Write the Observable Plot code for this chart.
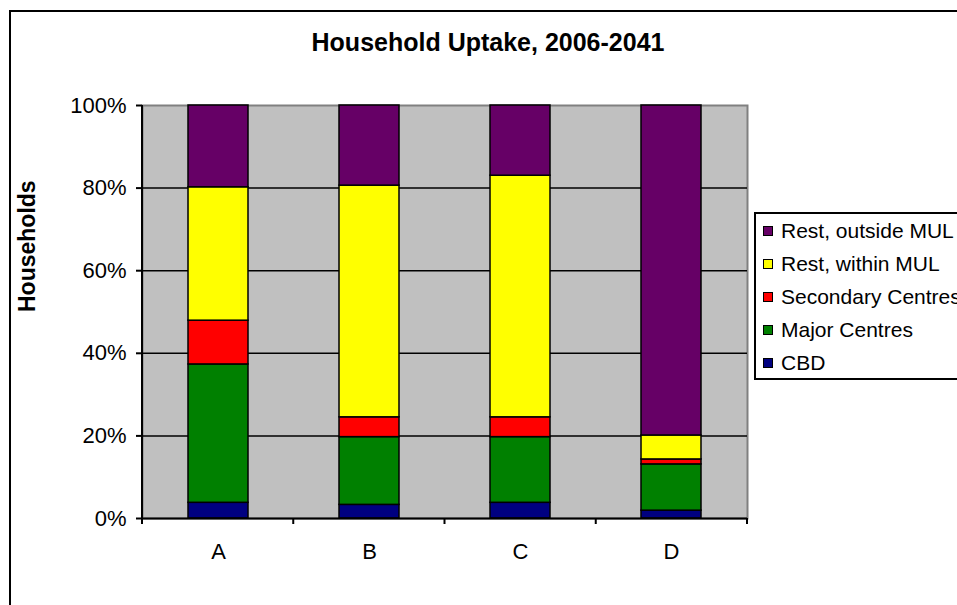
<!DOCTYPE html>
<html>
<head>
<meta charset="utf-8">
<script src="https://cdn.jsdelivr.net/npm/d3@7"></script>
<script src="https://cdn.jsdelivr.net/npm/@observablehq/plot@0.6"></script>
<style>
  html, body { margin: 0; padding: 0; background: #fff; overflow: hidden; }
  body { width: 957px; height: 605px; position: relative; font-family: "Liberation Sans", Arial, sans-serif; }
  #frame { position: absolute; left: 9px; top: 10px; width: 1200px; height: 900px; border: 2px solid #000; box-sizing: border-box; }
  #title { position: absolute; top: 28px; left: 488px; transform: translateX(-50%); font-size: 25px; font-weight: bold; white-space: nowrap; color: #000; }
  #chart { position: absolute; left: 0; top: 0; }
  #legend { position: absolute; left: 754px; top: 212px; width: 300px; height: 168px; border: 2px solid #000; box-sizing: border-box; background: #fff; }
  .row { height: 33.2px; display: flex; align-items: center; font-size: 21px; white-space: nowrap; color: #000; }
  .sw { width: 10px; height: 10px; border: 1px solid #000; box-sizing: border-box; margin-left: 7px; margin-right: 8px; flex: none; }
</style>
</head>
<body>
<div id="frame"></div>
<div id="chart"></div>
<div id="title">Household Uptake, 2006-2041</div>
<div id="legend"></div>
<script>
// ---- data ----
const categories = ["A", "B", "C", "D"];
const seriesNames = ["CBD", "Major Centres", "Secondary Centres", "Rest, within MUL", "Rest, outside MUL"];
const seriesColors = ["#000080", "#008000", "#FF0000", "#FFFF00", "#660066"];
const cbd       = [3.8, 3.3, 3.8, 1.9];
const major     = [33.5, 16.4, 15.9, 11.2];
const secondary = [10.6, 4.8, 4.8, 1.2];
const within    = [32.3, 56.1, 58.5, 5.8];
const outside   = [19.8, 19.4, 17.0, 79.9];
const yTicks = [0, 0.2, 0.4, 0.6, 0.8, 1];
const gridTicks = [0.2, 0.4, 0.6, 0.8];
const yLabel = "Households";

const seriesValues = [cbd, major, secondary, within, outside];
const rows = [];
seriesNames.forEach((s, si) => {
  categories.forEach((c, ci) => rows.push({category: c, series: s, value: seriesValues[si][ci]}));
});

// left axis line and category boundary ticks, from the band layout of the frame
function axisLines(index, scales, values, dims) {
  const g = d3.create("svg:g");
  const left = dims.marginLeft, right = dims.width - dims.marginRight;
  const bottom = dims.height - dims.marginBottom, top = dims.marginTop;
  const step = (right - left) / categories.length;
  const bounds = d3.range(categories.length + 1).map(i => left + i * step);
  g.append("line").attr("x1", left).attr("x2", left).attr("y1", top).attr("y2", bottom + 6)
    .attr("stroke", "#000").attr("stroke-width", 2);
  for (const b of bounds) {
    g.append("line").attr("x1", b).attr("x2", b).attr("y1", bottom).attr("y2", bottom + 6)
      .attr("stroke", "#000").attr("stroke-width", 2);
  }
  return g.node();
}

const chart = Plot.plot({
  width: 957,
  height: 605,
  marginLeft: 142,
  marginRight: 210,
  marginTop: 105,
  marginBottom: 87,
  style: {fontFamily: "'Liberation Sans', Arial, sans-serif", background: "transparent", overflow: "visible", color: "#000"},
  x: {domain: categories, paddingInner: 0.6, paddingOuter: 0.3, label: null},
  y: {domain: [0, 1], label: null},
  color: {domain: seriesNames, range: seriesColors},
  marks: [
    Plot.frame({fill: "#C0C0C0", stroke: "#808080", strokeWidth: 2}),
    Plot.gridY(gridTicks, {stroke: "#000", strokeOpacity: 1, strokeWidth: 1.5}),
    Plot.barY(rows, {x: "category", y: "value", fill: "series", order: seriesNames, offset: "normalize", stroke: "#000", strokeWidth: 1.5}),
    Plot.ruleY([0], {stroke: "#000", strokeWidth: 2}),
    axisLines,
    Plot.axisY(yTicks, {tickFormat: d3.format(".0%"), tickSize: 6, tickPadding: 10, fontSize: 22, stroke: "#000", strokeWidth: 2, label: null}),
    Plot.axisX({tickSize: 0, tickPadding: 25, fontSize: 22, label: null}),
    Plot.text([yLabel], {frameAnchor: "left", rotate: -90, dx: -115, fontWeight: "bold", fontSize: 23, fill: "#000"})
  ]
});
document.getElementById("chart").appendChild(chart);

// legend (top-down order is reverse of stacking)
const legend = document.getElementById("legend");
for (let i = seriesNames.length - 1; i >= 0; i--) {
  const row = document.createElement("div");
  row.className = "row";
  const sw = document.createElement("span");
  sw.className = "sw";
  sw.style.background = seriesColors[i];
  const t = document.createElement("span");
  t.textContent = seriesNames[i];
  row.appendChild(sw);
  row.appendChild(t);
  legend.appendChild(row);
}
</script>
</body>
</html>
